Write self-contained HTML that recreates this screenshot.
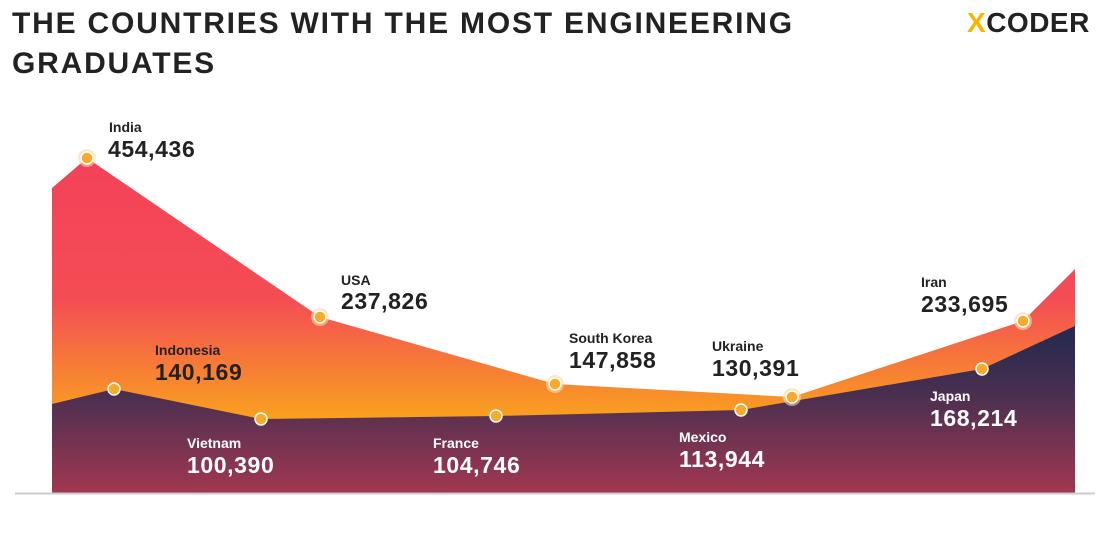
<!DOCTYPE html>
<html><head><style>
body{margin:0;background:#fff;font-family:"Liberation Sans",sans-serif;}
.t{position:absolute;left:12px;top:4px;font-size:30px;font-weight:bold;color:#222;line-height:40px;letter-spacing:1.8px}
</style></head><body>
<div style="position:relative;width:1110px;height:543px;overflow:hidden">
<div class="t">THE COUNTRIES WITH THE MOST ENGINEERING<br>GRADUATES</div>
<div style="position:absolute;left:967px;top:7px;font-size:28px;font-weight:bold;color:#222;letter-spacing:0.5px"><span style="color:#f7b500">X</span>CODER</div>
<svg width="1110" height="543" style="position:absolute;left:0;top:0">
<defs>
<linearGradient id="g1" x1="0" y1="150" x2="0" y2="420" gradientUnits="userSpaceOnUse">
<stop offset="0" stop-color="#f34159"/><stop offset="0.55" stop-color="#f44c55"/><stop offset="1" stop-color="#f9a21e"/></linearGradient>
<linearGradient id="g2" x1="0" y1="330" x2="0" y2="493" gradientUnits="userSpaceOnUse">
<stop offset="0" stop-color="#252a4e"/><stop offset="0.4" stop-color="#4a2f50"/><stop offset="1" stop-color="#a23751"/></linearGradient>
</defs>
<polygon fill="url(#g1)" points="52,188 87,158 320,317 555,384 792,397 1023,321 1075,269 1075,493 52,493"/>
<polygon fill="url(#g2)" points="52,404 114,389 261,419 496,416 741,410 982,369 1075,326 1075,493 52,493"/>
<line x1="15" y1="493.5" x2="1095" y2="493.5" stroke="#ccc" stroke-width="2"/>
<g fill="#f9d9a0" opacity="0.6">
<circle cx="87" cy="158" r="9"/><circle cx="320" cy="317" r="9"/><circle cx="555" cy="384" r="9"/><circle cx="792" cy="397" r="9"/><circle cx="1023" cy="321" r="9"/>
</g>
<g fill="#f7ab2c" stroke="#fff" stroke-width="1.5">
<circle cx="87" cy="158" r="6"/><circle cx="320" cy="317" r="6"/><circle cx="555" cy="384" r="6"/><circle cx="792" cy="397" r="6"/><circle cx="1023" cy="321" r="6"/>
<circle cx="114" cy="389" r="6"/><circle cx="261" cy="419" r="6"/><circle cx="496" cy="416" r="6"/><circle cx="741" cy="410" r="6"/><circle cx="982" cy="369" r="6"/>
</g>
<g font-family="Liberation Sans,sans-serif" font-weight="bold">
<g fill="#222">
<text x="109" y="132" font-size="14">India</text><text x="108" y="157" font-size="23" letter-spacing="0.6">454,436</text>
<text x="341" y="285" font-size="14">USA</text><text x="341" y="309" font-size="23" letter-spacing="0.6">237,826</text>
<text x="155" y="355" font-size="14">Indonesia</text><text x="155" y="380" font-size="23" letter-spacing="0.6">140,169</text>
<text x="569" y="343" font-size="14">South Korea</text><text x="569" y="368" font-size="23" letter-spacing="0.6">147,858</text>
<text x="712" y="351" font-size="14">Ukraine</text><text x="712" y="376" font-size="23" letter-spacing="0.6">130,391</text>
<text x="921" y="287" font-size="14">Iran</text><text x="921" y="312" font-size="23" letter-spacing="0.6">233,695</text>
</g>
<g fill="#fff">
<text x="187" y="448" font-size="14">Vietnam</text><text x="187" y="473" font-size="23" letter-spacing="0.6">100,390</text>
<text x="433" y="448" font-size="14">France</text><text x="433" y="473" font-size="23" letter-spacing="0.6">104,746</text>
<text x="679" y="442" font-size="14">Mexico</text><text x="679" y="467" font-size="23" letter-spacing="0.6">113,944</text>
<text x="930" y="401" font-size="14">Japan</text><text x="930" y="426" font-size="23" letter-spacing="0.6">168,214</text>
</g>
</g>
</svg>
</div>
</body></html>
